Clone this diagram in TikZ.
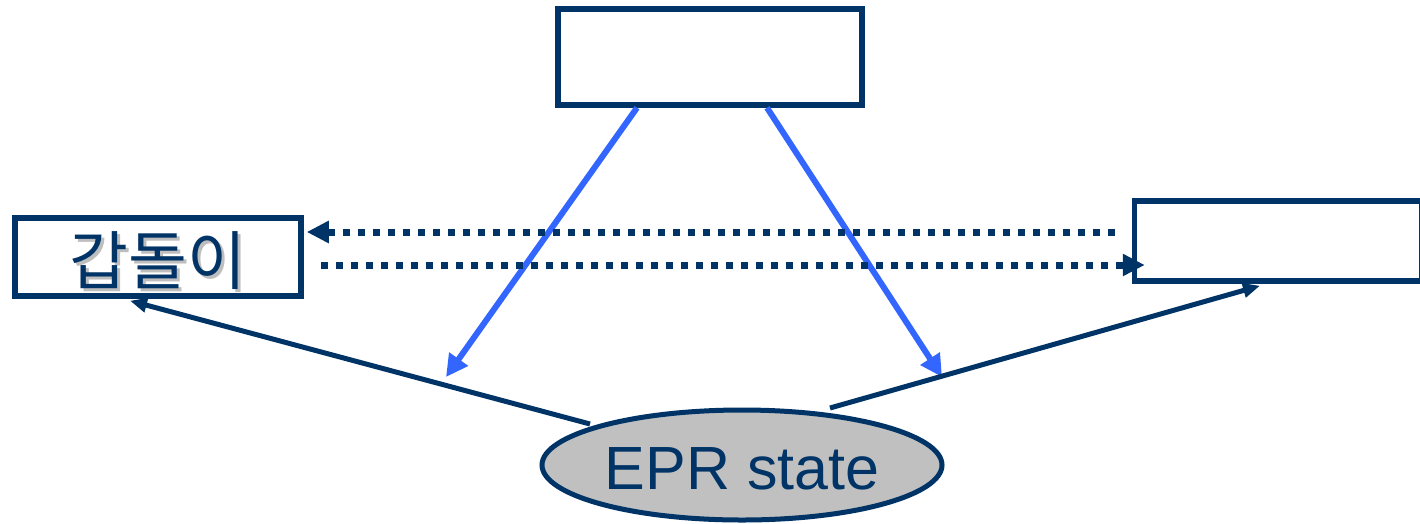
\documentclass[tikz,border=0pt]{standalone}
\usepackage{fontspec}
\setmainfont{Liberation Sans}
\newfontfamily\krfont{Noto Sans CJK KR}
\usetikzlibrary{arrows.meta,shapes.geometric,calc}
\definecolor{navy}{RGB}{0,51,102}
\definecolor{bblue}{RGB}{51,102,255}
\definecolor{egray}{RGB}{192,192,192}
\definecolor{shadowgray}{RGB}{190,190,190}
\newcommand{\shadowtext}[1]{\makebox[0pt][l]{\hspace{3pt}\raisebox{-3pt}{\textcolor{shadowgray}{#1}}}#1}
\tikzset{
  box/.style={draw=navy, line width=5.5pt, fill=white, rectangle, inner sep=0pt},
  blueline/.style={draw=bblue, line width=6pt, -{Triangle[length=22pt,width=22pt]}},
  navyline/.style={draw=navy, line width=5pt, -{Triangle[length=17pt,width=14pt]}},
  dotline/.style={draw=navy, line width=7pt, dash pattern=on 7pt off 8pt, -{Triangle[length=22pt,width=21pt]}},
  lbl/.style={text=navy, inner sep=0pt}
}
\begin{document}
\begin{tikzpicture}[x=1pt,y=-1pt]
\useasboundingbox (0,0) rectangle (1420,523);
\node[box, minimum width=304pt, minimum height=96pt] (tbox) at (710,57) {};
\node[box, minimum width=286pt, minimum height=78pt] (lbox) at (158,257) {};
\node[box, minimum width=287pt, minimum height=80pt] (rbox) at (1278,241) {};
\node[lbl, font=\krfont\fontsize{64}{66}\selectfont] (ltext) at (158,262) {\shadowtext{갑돌이}};
\node[ellipse, draw=navy, fill=egray, line width=5pt, minimum width=400pt, minimum height=110pt, inner sep=0pt] (epr) at (742,465) {};
\node[lbl, font=\fontsize{61}{63}\selectfont] (eprtext) at (742,469) {EPR state};
% blue arrows from top box
\coordinate (bl) at (446,377);
\coordinate (br) at (942,377);
\draw[blueline] ($(tbox.south)+(-73,0)$) -- (bl);
\draw[blueline] ($(tbox.south)+(57,0)$) -- (br);
% solid arrows from EPR state
\coordinate (el) at (590,424);
\coordinate (er) at (830,408);
\draw[navyline] (el) -- ($(lbox.south)+(-28,2)$);
\draw[navyline] (er) -- ($(rbox.south)+(-18,2)$);
% dotted arrows
\draw[dotline] ($(rbox.west)+(-17,-9)$) -- ($(lbox.east)+(3,-25)$);
\draw[dotline] ($(lbox.east)+(17,8)$) -- ($(rbox.west)+(13,24)$);
\end{tikzpicture}
\end{document}
